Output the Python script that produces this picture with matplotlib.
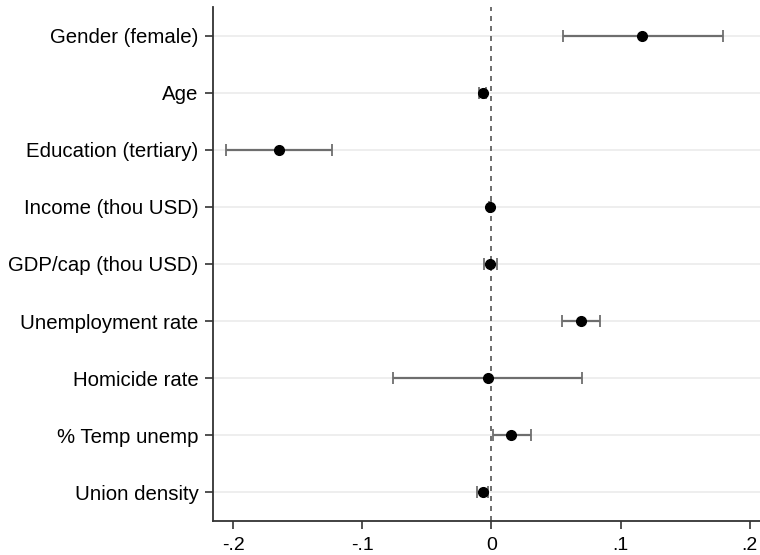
import matplotlib

matplotlib.use("Agg")

import matplotlib.pyplot as plt
import numpy as np

# coefficient estimates with 95% CI
labels = [
    "Gender (female)",
    "Age",
    "Education (tertiary)",
    "Income (thou USD)",
    "GDP/cap (thou USD)",
    "Unemployment rate",
    "Homicide rate",
    "% Temp unemp",
    "Union density",
]
coef = [0.117, -0.0067, -0.1644, -0.001, -0.001, 0.069, -0.003, 0.0155, -0.0069]
ci_lo = [0.0552, -0.0095, -0.2058, -0.0015, -0.006, 0.0544, -0.076, 0.001, -0.0114]
ci_hi = [0.1795, -0.004, -0.1232, -0.0005, 0.004, 0.084, 0.0699, 0.0304, -0.0025]
xticks = [-0.2, -0.1, 0, 0.1, 0.2]
xticklabels = ["-.2", "-.1", "0", ".1", ".2"]

plt.rcParams["font.family"] = ["Liberation Sans", "DejaVu Sans"]

fig = plt.figure(figsize=(7.6, 5.55), dpi=100)
# spine left at x=213px, bottom at y=521px, top at y=7px
ax = fig.add_axes([0.2803, 0.0613, 0.7197, 0.9261])

y = np.arange(1, len(labels) + 1)
coef = np.array(coef)
err = np.vstack([coef - np.array(ci_lo), np.array(ci_hi) - coef])

for yy in y:
    ax.axhline(yy, color="#ebebeb", linewidth=1.2, zorder=0)
ax.axvline(0, color="#555555", linewidth=1.2, linestyle=(0, (3, 3)), zorder=1)

ax.errorbar(coef, y, xerr=err, fmt="none", ecolor="#6e6e6e", elinewidth=1.6,
            capsize=4, capthick=1.3, zorder=2)
ax.plot(coef, y, "o", color="black", markersize=7, zorder=3)

ax.set_ylim(9.5, 0.5)
ax.set_xlim(-0.2156, 0.208)
ax.set_yticks(y)
ax.set_yticklabels(labels)
ax.set_xticks(xticks)
ax.set_xticklabels(xticklabels)

for s in ["top", "right"]:
    ax.spines[s].set_visible(False)
for s in ["left", "bottom"]:
    ax.spines[s].set_color("#333333")
    ax.spines[s].set_linewidth(1.3)
ax.tick_params(axis="both", colors="#333333", labelcolor="black",
               width=1.2, length=5.5)
ax.tick_params(axis="y", labelsize=14.7, pad=5)
ax.tick_params(axis="x", labelsize=14, pad=6)

fig.savefig("out.png", dpi=100)
